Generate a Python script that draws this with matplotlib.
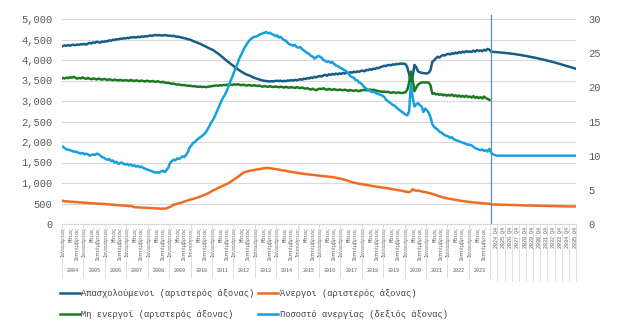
import numpy as np
import matplotlib
matplotlib.use("Agg")
import matplotlib.pyplot as plt
from matplotlib.transforms import blended_transform_factory

plt.rcParams['font.family'] = ['Liberation Mono', 'DejaVu Sans Mono']

# categories
years = list(range(2004, 2024))
month_labels = ["Ιανουάριος", "Μάιος", "Σεπτέμβριος"]  # every 4th month
forecast_years = list(range(2024, 2036))  # quarterly, label on Q4

# monthly values 2004-2023, thousands (left axis)
employed = [
    4340, 4355, 4348, 4362, 4350, 4368, 4372, 4360, 4378, 4370, 4385, 4380,  # 2004
    4392, 4375, 4400, 4418, 4405, 4430, 4420, 4445, 4432, 4425, 4450, 4440,
    4462, 4455, 4480, 4470, 4495, 4488, 4510, 4500, 4522, 4515, 4530, 4525,
    4540, 4532, 4555, 4548, 4560, 4545, 4568, 4555, 4575, 4565, 4580, 4572,
    4590, 4600, 4585, 4605, 4610, 4598, 4612, 4600, 4595, 4610, 4602, 4590,  # 2008
    4595, 4585, 4590, 4575, 4565, 4570, 4550, 4545, 4530, 4525, 4505, 4500,
    4485, 4460, 4445, 4430, 4410, 4395, 4370, 4350, 4330, 4305, 4285, 4265,
    4245, 4215, 4185, 4155, 4120, 4085, 4050, 4010, 3975, 3940, 3905, 3875,
    3840, 3805, 3775, 3745, 3715, 3690, 3665, 3645, 3630, 3610, 3590, 3570,  # 2012
    3555, 3540, 3525, 3510, 3500, 3492, 3485, 3480, 3478, 3482, 3480, 3488,
    3495, 3488, 3495, 3480, 3492, 3485, 3500, 3495, 3510, 3498, 3515, 3505,
    3520, 3530, 3518, 3545, 3535, 3560, 3548, 3575, 3560, 3590, 3575, 3600,
    3610, 3595, 3625, 3640, 3615, 3650, 3635, 3660, 3645, 3670, 3650, 3675,  # 2016
    3660, 3685, 3670, 3695, 3680, 3705, 3690, 3715, 3700, 3725, 3710, 3735,
    3740, 3725, 3760, 3750, 3775, 3760, 3790, 3780, 3810, 3800, 3830, 3840,
    3860, 3850, 3875, 3880, 3870, 3895, 3885, 3905, 3900, 3915, 3905, 3910,
    3900, 3820, 3650, 3430, 3600, 3880, 3820, 3720, 3700, 3690, 3680, 3675,  # 2020
    3670, 3690, 3760, 3960, 3990, 4040, 4080, 4060, 4100, 4120, 4110, 4140,
    4150, 4135, 4165, 4150, 4180, 4160, 4195, 4175, 4205, 4185, 4215, 4195,
    4210, 4195, 4230, 4205, 4240, 4220, 4235, 4215, 4250, 4230, 4270, 4250,
]
unemployed = [
    565, 552, 558, 545, 548, 538, 542, 530, 535, 525, 530, 520,  # 2004
    522, 512, 518, 505, 510, 500, 505, 495, 500, 490, 495, 485,
    488, 478, 482, 470, 474, 462, 466, 455, 458, 448, 452, 442,
    445, 435, 438, 428, 412, 405, 410, 400, 405, 395, 400, 390,
    395, 385, 390, 380, 385, 375, 380, 372, 378, 370, 382, 398,  # 2008
    415, 440, 470, 480, 495, 505, 515, 530, 545, 560, 575, 590,
    600, 612, 625, 640, 655, 670, 688, 705, 722, 740, 765, 790,
    815, 835, 855, 880, 900, 920, 940, 960, 980, 1000, 1030, 1060,
    1090, 1120, 1150, 1180, 1215, 1250, 1265, 1280, 1292, 1300, 1310, 1318,  # 2012
    1325, 1332, 1340, 1348, 1355, 1362, 1370, 1365, 1360, 1355, 1348, 1340,
    1335, 1325, 1318, 1310, 1302, 1295, 1285, 1278, 1270, 1262, 1255, 1248,
    1242, 1236, 1230, 1225, 1218, 1212, 1208, 1202, 1198, 1192, 1188, 1182,
    1178, 1172, 1168, 1162, 1158, 1154, 1150, 1145, 1138, 1130, 1120, 1110,  # 2016
    1100, 1090, 1078, 1065, 1050, 1035, 1020, 1010, 1000, 990, 982, 975,
    968, 960, 952, 945, 938, 930, 922, 915, 908, 902, 898, 892,
    885, 878, 870, 862, 855, 848, 840, 832, 825, 818, 810, 800,
    790, 785, 775, 800, 850, 820, 812, 818, 805, 795, 785, 775,  # 2020
    770, 760, 748, 735, 720, 705, 690, 675, 660, 648, 638, 628,
    620, 612, 603, 595, 588, 580, 572, 566, 560, 553, 547, 541,
    536, 531, 527, 522, 518, 513, 509, 505, 502, 498, 495, 492,
]
inactive = [
    3560, 3548, 3572, 3555, 3580, 3565, 3590, 3570, 3545, 3565, 3550, 3575,  # 2004
    3555, 3540, 3560, 3545, 3530, 3552, 3538, 3525, 3548, 3530, 3520, 3540,
    3525, 3512, 3530, 3518, 3505, 3522, 3510, 3500, 3515, 3505, 3495, 3512,
    3500, 3490, 3515, 3498, 3485, 3505, 3492, 3480, 3500, 3488, 3475, 3495,
    3485, 3472, 3490, 3478, 3465, 3482, 3470, 3455, 3470, 3450, 3440, 3445,  # 2008
    3430, 3420, 3425, 3410, 3400, 3405, 3392, 3385, 3390, 3378, 3370, 3375,
    3365, 3358, 3362, 3350, 3345, 3352, 3340, 3348, 3338, 3345, 3350, 3360,
    3365, 3372, 3380, 3370, 3385, 3378, 3392, 3385, 3398, 3390, 3400, 3395,
    3405, 3398, 3410, 3395, 3385, 3398, 3388, 3375, 3390, 3380, 3372, 3385,  # 2012
    3375, 3365, 3378, 3360, 3350, 3365, 3352, 3345, 3360, 3348, 3340, 3355,
    3345, 3335, 3350, 3338, 3330, 3345, 3332, 3325, 3340, 3328, 3320, 3335,
    3325, 3315, 3330, 3310, 3300, 3315, 3290, 3280, 3300, 3275, 3265, 3290,
    3300, 3290, 3310, 3285, 3275, 3295, 3280, 3270, 3288, 3275, 3265, 3280,  # 2016
    3270, 3262, 3278, 3260, 3250, 3268, 3255, 3248, 3262, 3250, 3240, 3258,
    3262, 3275, 3258, 3270, 3280, 3265, 3275, 3260, 3250, 3240, 3232, 3225,
    3230, 3218, 3225, 3210, 3200, 3215, 3205, 3195, 3210, 3200, 3192, 3205,
    3210, 3280, 3450, 3715, 3500, 3240, 3330, 3400, 3430, 3450, 3455, 3450,  # 2020
    3455, 3445, 3380, 3175, 3190, 3160, 3175, 3150, 3165, 3140, 3155, 3130,
    3150, 3130, 3160, 3120, 3140, 3110, 3135, 3105, 3125, 3100, 3130, 3095,
    3110, 3085, 3120, 3075, 3100, 3070, 3095, 3060, 3110, 3070, 3050, 3025,
]
# unemployment rate, % (right axis)
rate = [
    11.3, 11.1, 10.9, 10.9, 10.8, 10.7, 10.6, 10.6, 10.5, 10.4, 10.3, 10.4,  # 2004
    10.2, 10.3, 10.2, 10.0, 10.1, 10.2, 10.1, 10.3, 10.2, 10.0, 9.8, 9.7,
    9.5, 9.4, 9.5, 9.2, 9.3, 9.0, 9.1, 8.8, 8.9, 9.0, 8.8, 8.7,
    8.8, 8.6, 8.7, 8.5, 8.6, 8.4, 8.5, 8.3, 8.4, 8.2, 8.1, 8.0,
    7.9, 7.8, 7.7, 7.6, 7.5, 7.6, 7.5, 7.7, 7.8, 7.6, 7.9, 8.2,  # 2008
    8.9, 9.2, 9.4, 9.3, 9.6, 9.5, 9.7, 9.9, 9.8, 10.1, 10.5, 11.2,
    11.5, 11.9, 12.0, 12.3, 12.5, 12.7, 12.9, 13.1, 13.4, 13.8, 14.3, 14.8,
    15.2, 15.7, 16.3, 16.9, 17.5, 18.1, 18.6, 19.0, 19.6, 20.3, 21.0, 21.6,
    22.3, 22.9, 23.6, 24.3, 24.8, 25.4, 25.9, 26.3, 26.7, 27.0, 27.2, 27.4,  # 2012
    27.4, 27.5, 27.7, 27.8, 27.9, 28.0, 28.1, 27.9, 28.0, 27.8, 27.7, 27.5,
    27.6, 27.3, 27.4, 27.1, 26.9, 26.8, 26.5, 26.3, 26.2, 26.1, 26.2, 25.9,
    25.8, 25.9, 25.6, 25.4, 25.2, 25.0, 24.9, 24.6, 24.5, 24.2, 24.4, 24.6,
    24.5, 24.3, 24.0, 23.9, 23.7, 23.8, 23.6, 23.7, 23.4, 23.2, 23.1, 22.9,  # 2016
    22.8, 22.6, 22.5, 22.3, 22.0, 21.7, 21.5, 21.4, 21.1, 21.0, 20.7, 20.6,
    20.3, 20.0, 19.8, 19.6, 19.5, 19.3, 19.4, 19.2, 19.1, 19.0, 18.9, 18.8,
    18.6, 18.2, 18.0, 17.8, 17.6, 17.4, 17.3, 17.0, 16.8, 16.6, 16.4, 16.2,
    16.0, 15.9, 16.5, 20.6, 18.5, 17.2, 17.5, 17.7, 17.4, 17.2, 16.4, 16.9,  # 2020
    16.6, 16.3, 15.6, 14.6, 14.2, 14.0, 13.8, 13.5, 13.4, 13.2, 13.0, 12.9,
    12.8, 12.6, 12.7, 12.4, 12.3, 12.2, 12.1, 12.0, 11.9, 11.8, 11.7, 11.6,
    11.6, 11.5, 11.3, 11.1, 11.0, 10.9, 10.8, 10.9, 10.7, 10.8, 10.6, 11.0,
]

# quarterly projections 2024Q1-2035Q4
employed_fc = [
    4200, 4198, 4195, 4192, 4188, 4184, 4180, 4176, 4172, 4167, 4162, 4157,
    4151, 4145, 4139, 4132, 4125, 4118, 4110, 4102, 4094, 4086, 4078, 4069,
    4060, 4051, 4042, 4032, 4022, 4012, 4002, 3991, 3980, 3969, 3958, 3946,
    3934, 3922, 3909, 3896, 3883, 3870, 3857, 3844, 3831, 3818, 3805, 3792,
]
unemployed_fc = [
    478, 476, 475, 474, 473, 472, 471, 470, 469, 468, 467, 466,
    465, 463, 461, 459, 457, 455, 453, 452, 451, 450, 449, 448,
    447, 446, 445, 444, 443, 442, 441, 440, 439, 438, 437, 436,
    435, 434, 433, 432, 432, 431, 430, 430, 429, 429, 428, 428,
]
rate_fc = [
    10.4, 10.2, 10.1, 10.0, 10.0, 10.0, 10.0, 10.0, 10.0, 10.0, 10.0, 10.0,
    10.0, 10.0, 10.0, 10.0, 10.0, 10.0, 10.0, 10.0, 10.0, 10.0, 10.0, 10.0,
    10.0, 10.0, 10.0, 10.0, 10.0, 10.0, 10.0, 10.0, 10.0, 10.0, 10.0, 10.0,
    10.0, 10.0, 10.0, 10.0, 10.0, 10.0, 10.0, 10.0, 10.0, 10.0, 10.0, 10.0,
]

c_emp = "#185d87"
c_unemp = "#f26b21"
c_inact = "#1b7a1e"
c_rate = "#16a0dc"
grid_c = "#d9d9d9"
txt_c = "#595959"

n_hist = len(employed)
n_all = n_hist + len(employed_fc)
x = np.arange(n_all)

fig = plt.figure(figsize=(6.24, 3.33), dpi=100)
ax = fig.add_axes([62 / 624, 1 - 224 / 333, 514 / 624, 205 / 333])
ax2 = ax.twinx()

lw = 1.8
l_emp, = ax.plot(x, employed + employed_fc, color=c_emp, lw=lw)
l_unemp, = ax.plot(x, unemployed + unemployed_fc, color=c_unemp, lw=lw)
l_inact, = ax.plot(x[:n_hist], inactive, color=c_inact, lw=lw)
l_rate, = ax2.plot(x, rate + rate_fc, color=c_rate, lw=lw)

ax.set_xlim(-0.5, n_all - 0.5)
ax.set_ylim(0, 5000)
ax.set_yticks(np.arange(0, 5001, 500))
ax.set_yticklabels([f"{v:,}" for v in range(0, 5001, 500)])
ax2.set_ylim(0, 30)
ax2.set_yticks(range(0, 31, 5))

ax.grid(axis="y", color=grid_c, lw=0.8)
ax.set_axisbelow(True)
for a in (ax, ax2):
    for s in a.spines.values():
        s.set_visible(False)
    a.tick_params(axis="y", length=0, colors=txt_c, labelsize=7.5)
ax.spines["bottom"].set_visible(True)
ax.spines["bottom"].set_color(grid_c)
ax.tick_params(axis="y", pad=7)
ax2.tick_params(axis="y", pad=9)

# x tick labels: month names in history, "YYYY Q4" in projection
ticks, labels = [], []
for i in range(0, n_hist, 4):
    ticks.append(i)
    labels.append(month_labels[(i % 12) // 4])
for k, y in enumerate(forecast_years):
    ticks.append(n_hist + 4 * k + 3)
    labels.append(f"{y} Q4")
ax.set_xticks(ticks)
ax.set_xticklabels(labels, rotation=90, fontsize=3.6, color=txt_c)
ax.tick_params(axis="x", length=0, pad=2)

trans = blended_transform_factory(ax.transData, ax.transAxes)
for k, y in enumerate(years):
    ax.text(12 * k + 5.5, -0.225, str(y), transform=trans, ha="center",
            va="center", fontsize=3.6, color=txt_c)
for k in range(len(years) + 1):
    ax.plot([12 * k - 0.5] * 2, [0, -0.26], transform=trans, color=grid_c,
            lw=0.6, clip_on=False)
for k in range(1, len(forecast_years) + 1):
    ax.plot([n_hist + 4 * k - 0.5] * 2, [0, -0.28], transform=trans,
            color=grid_c, lw=0.6, clip_on=False)

# start of projections
ax.axvline(n_hist, ymin=0, ymax=1.02, color="#5a8fae", lw=0.9, clip_on=False)

fig.legend([l_emp, l_inact, l_unemp, l_rate],
           ["Απασχολούμενοι (αριστερός άξονας)", "Μη ενεργοί (αριστερός άξονας)",
            "Άνεργοι (αριστερός άξονας)", "Ποσοστό ανεργίας (δεξιός άξονας)"],
           ncol=2, loc="upper left", bbox_to_anchor=(60 / 624, 1 - 289 / 333),
           frameon=False, fontsize=6.3, handlelength=2.3, handletextpad=0.15,
           columnspacing=0.4, labelspacing=1.35, borderpad=0, borderaxespad=0,
           labelcolor="#404040")

fig.savefig("out.png", dpi=100)
